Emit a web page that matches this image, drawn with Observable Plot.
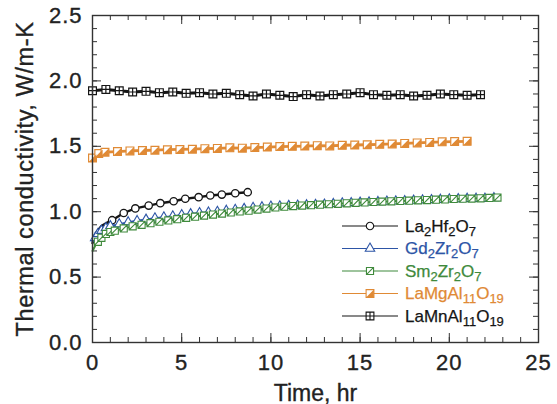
<!DOCTYPE html>
<html><head><meta charset="utf-8">
<script src="https://cdn.jsdelivr.net/npm/d3@7"></script>
<script src="https://cdn.jsdelivr.net/npm/@observablehq/plot@0.6"></script>
<style>body{margin:0;background:#fff}</style>
</head><body><div id="chart"></div>
<script>
// ---- data ----
const tHf = [0,0.1,0.25,0.5,0.8,1.1,1.75,2.4,3.15,3.8,4.55,5.2,5.95,6.6,7.25,8.0,8.7];
const vHf = [0.76,0.80,0.85,0.89,0.915,0.935,0.99,1.025,1.047,1.065,1.08,1.099,1.111,1.124,1.131,1.141,1.149];

const tGd = [0,0.15,0.3,0.5,0.75,1,1.5,2,2.5,3,3.5,4,4.5,5,5.5,6,6.5,7,7.5,8,8.5,9,9.5,10,10.5,11,11.5,12,12.5,13,13.5,14,14.5,15,15.5,16,16.5,17,17.5,18,18.5,19,19.5,20,20.5,21,21.5,22,22.5];
const vGd = [0.77,0.80,0.83,0.855,0.875,0.89,0.905,0.92,0.93,0.94,0.95,0.958,0.965,0.975,0.982,0.99,0.995,1.0,1.008,1.015,1.022,1.03,1.035,1.04,1.042,1.045,1.048,1.05,1.053,1.055,1.06,1.065,1.067,1.07,1.072,1.075,1.078,1.08,1.082,1.085,1.088,1.09,1.092,1.095,1.097,1.1,1.1,1.1,1.105];

const tSm = [0,0.15,0.3,0.5,0.75,1,1.25,1.75,2.25,2.75,3.25,3.75,4.25,4.75,5.25,5.75,6.25,6.75,7.25,7.75,8.25,8.75,9.25,9.75,10.25,10.75,11.25,11.75,12.25,12.75,13.25,13.75,14.25,14.75,15.25,15.75,16.25,16.75,17.25,17.75,18.25,18.75,19.25,19.75,20.25,20.75,21.25,21.75,22.25,22.7];
const vSm = [0.70,0.74,0.77,0.80,0.83,0.845,0.855,0.872,0.888,0.9,0.912,0.923,0.933,0.943,0.953,0.962,0.97,0.978,0.986,0.994,1.002,1.008,1.016,1.024,1.032,1.038,1.043,1.047,1.05,1.054,1.057,1.06,1.064,1.068,1.071,1.074,1.077,1.079,1.082,1.084,1.087,1.089,1.092,1.094,1.097,1.099,1.1,1.102,1.105,1.108];

const tMg = [0,0.35,0.7,1.4,2.1,2.8,3.5,4.2,4.9,5.6,6.3,7,7.7,8.4,9.1,9.8,10.5,11.2,11.9,12.6,13.3,14,14.7,15.4,16.1,16.8,17.5,18.2,18.9,19.6,20.3,21];
const vMg = [1.41,1.445,1.455,1.46,1.465,1.468,1.47,1.474,1.476,1.478,1.482,1.484,1.488,1.486,1.49,1.494,1.498,1.5,1.502,1.505,1.503,1.508,1.51,1.512,1.515,1.518,1.522,1.526,1.53,1.534,1.536,1.538];

const tMn = [0,0.75,1.5,2.25,3,3.75,4.5,5.25,6,6.75,7.5,8.25,9,9.75,10.5,11.25,12,12.75,13.5,14.25,15,15.75,16.5,17.25,18,18.75,19.5,20.25,21,21.75];
const vMn = [1.925,1.935,1.925,1.915,1.92,1.91,1.915,1.905,1.91,1.9,1.905,1.895,1.885,1.9,1.89,1.88,1.895,1.885,1.895,1.9,1.91,1.895,1.89,1.895,1.885,1.89,1.9,1.895,1.89,1.895];

const xMajor = [0,5,10,15,20,25];
const xMinor = [0,1,2,3,4,5,6,7,8,9,10,11,12,13,14,15,16,17,18,19,20,21,22,23,24,25];
const yMajor = [0,0.5,1.0,1.5,2.0,2.5];
const yMinor = [0,0.1,0.2,0.3,0.4,0.5,0.6,0.7,0.8,0.9,1.0,1.1,1.2,1.3,1.4,1.5,1.6,1.7,1.8,1.9,2.0,2.1,2.2,2.3,2.4,2.5];
const xTickLabels = ["0","5","10","15","20","25"];
const yTickLabels = ["0.0","0.5","1.0","1.5","2.0","2.5"];

const legendNames = [
  [["La",0],["2",1],["Hf",0],["2",1],["O",0],["7",1]],
  [["Gd",0],["2",1],["Zr",0],["2",1],["O",0],["7",1]],
  [["Sm",0],["2",1],["Zr",0],["2",1],["O",0],["7",1]],
  [["LaMgAl",0],["11",1],["O",0],["19",1]],
  [["LaMnAl",0],["11",1],["O",0],["19",1]]
];
const colors = ["#151515","#2d55a6","#3f8a3c","#e08a35","#151515"];

// ---- symbols ----
const symSquareCross = {draw(c, s){const w=Math.sqrt(s)/2;c.moveTo(-w,-w);c.lineTo(w,-w);c.lineTo(w,w);c.lineTo(-w,w);c.closePath();c.moveTo(0,-w);c.lineTo(0,w);c.moveTo(-w,0);c.lineTo(w,0);}};
const symSquareSlash = {draw(c, s){const w=Math.sqrt(s)/2;c.moveTo(-w,-w);c.lineTo(w,-w);c.lineTo(w,w);c.lineTo(-w,w);c.closePath();c.moveTo(-w,w);c.lineTo(w,-w);}};
const symSquareOpen = {draw(c, s){const w=Math.sqrt(s)/2;c.moveTo(-w,-w);c.lineTo(w,-w);c.lineTo(w,w);c.lineTo(-w,w);c.closePath();}};
const symCorner = {draw(c, s){const w=Math.sqrt(s)/2;c.moveTo(w,-w);c.lineTo(w,w);c.lineTo(-w,w);c.closePath();}};
const symTri = d3.symbolTriangle;

const rows = (t, v) => t.map((x, i) => ({t: x, v: v[i]}));
const dHf = rows(tHf, vHf), dGd = rows(tGd, vGd), dSm = rows(tSm, vSm), dMg = rows(tMg, vMg), dMn = rows(tMn, vMn);

const rSq = 4.4, rCi = 3.7, rTr = 3.5, rSl = 4.0;

const W = 557, H = 404, ML = 92, MR = 19, MT = 15, MB = 62;
const FW = W - ML - MR, FH = H - MT - MB;
const majLen = 9, minLen = 5, tickCol = "#333";

const tickMarks = [
  Plot.ruleX(xMajor, {x: d => d, insetTop: FH - majLen, stroke: tickCol}),
  Plot.ruleX(xMinor, {x: d => d, insetTop: FH - minLen, stroke: tickCol}),
  Plot.ruleX(xMajor, {x: d => d, insetBottom: FH - majLen, stroke: tickCol}),
  Plot.ruleX(xMinor, {x: d => d, insetBottom: FH - minLen, stroke: tickCol}),
  Plot.ruleY(yMajor, {y: d => d, insetRight: FW - majLen, stroke: tickCol}),
  Plot.ruleY(yMinor, {y: d => d, insetRight: FW - minLen, stroke: tickCol}),
  Plot.ruleY(yMajor, {y: d => d, insetLeft: FW - majLen, stroke: tickCol}),
  Plot.ruleY(yMinor, {y: d => d, insetLeft: FW - minLen, stroke: tickCol})
];

const plot = Plot.plot({
  width: W, height: H,
  marginLeft: ML, marginRight: MR, marginTop: MT, marginBottom: MB,
  x: {domain: [0, 25]},
  y: {domain: [0, 2.5]},
  style: {fontFamily: "'Liberation Sans', Arial, Helvetica, sans-serif", fontSize: "22px", color: "#222", background: "white"},
  marks: [
    Plot.axisX({anchor: "bottom", ticks: xMajor, tickSize: 0, tickPadding: 12, tickFormat: (d, i) => xTickLabels[i],
      label: "Time, hr", labelAnchor: "center", labelOffset: 58, labelArrow: "none"}),
    Plot.axisY({anchor: "left", ticks: yMajor, tickSize: 0, tickPadding: 10, tickFormat: (d, i) => yTickLabels[i],
      label: "Thermal conductivity, W/m-K", labelAnchor: "center", labelOffset: 76, labelArrow: "none"}),
    ...tickMarks,
    // LaMnAl11O19
    Plot.line(dMn, {x: "t", y: "v", stroke: colors[4], strokeWidth: 3}),
    Plot.dot(dMn, {x: "t", y: "v", symbol: symSquareCross, r: rSq, stroke: colors[4], fill: "white", strokeWidth: 1.2}),
    // LaMgAl11O19
    Plot.line(dMg, {x: "t", y: "v", stroke: colors[3], strokeWidth: 2.8}),
    Plot.dot(dMg, {x: "t", y: "v", symbol: symSquareOpen, r: rSq, stroke: colors[3], fill: "white", strokeWidth: 1.2}),
    Plot.dot(dMg, {x: "t", y: "v", symbol: symCorner, r: rSq, fill: colors[3]}),
    // La2Hf2O7
    Plot.line(dHf, {x: "t", y: "v", stroke: colors[0], strokeWidth: 2.4}),
    Plot.dot(dHf.filter(d => d.t >= 1), {x: "t", y: "v", symbol: "circle", r: rCi, stroke: colors[0], fill: "white", strokeWidth: 1.3}),
    // Gd2Zr2O7
    Plot.line(dGd, {x: "t", y: "v", stroke: colors[1], strokeWidth: 2}),
    Plot.dot(dGd.filter(d => d.t >= 0.15), {x: "t", y: "v", symbol: symTri, r: rTr, stroke: colors[1], fill: "white", strokeWidth: 1.1}),
    // Sm2Zr2O7
    Plot.line(dSm, {x: "t", y: "v", stroke: colors[2], strokeWidth: 2}),
    Plot.dot(dSm.filter(d => d.t >= 0.3), {x: "t", y: "v", symbol: symSquareSlash, r: rSl, stroke: colors[2], fill: "white", strokeWidth: 1.1}),
    Plot.frame({stroke: "#333", strokeWidth: 1.4})
  ]
});
document.getElementById("chart").append(plot);

const svg = d3.select(plot);
// heavier, slightly wider axis text like the reference
svg.selectAll('g[aria-label="x-axis tick label"] text, g[aria-label="y-axis tick label"] text')
  .attr("letter-spacing", 1).attr("stroke", "#222").attr("stroke-width", 0.35);
svg.selectAll('g[aria-label="y-axis label"] text')
  .attr("font-size", 23.5).attr("letter-spacing", 0.6).attr("stroke", "#222").attr("stroke-width", 0.35);
svg.selectAll('g[aria-label="x-axis label"] text')
  .attr("font-size", 23).attr("stroke", "#222").attr("stroke-width", 0.35);

// ---- legend ----
const lg = svg.append("g").attr("font-family", "'Liberation Sans', Arial, Helvetica, sans-serif").attr("text-anchor", "start");
const legendSyms = [
  [{type: d3.symbolCircle, r: rCi}],
  [{type: symTri, r: rTr}],
  [{type: symSquareSlash, r: rSl}],
  [{type: symSquareOpen, r: rSq}, {type: symCorner, r: rSq, solid: true}],
  [{type: symSquareCross, r: rSq}]
];
legendNames.forEach((parts, i) => {
  const y = 226 + i * 22.5;
  const col = colors[i];
  lg.append("line").attr("x1", 342).attr("x2", 398).attr("y1", y).attr("y2", y).attr("stroke", col).attr("stroke-width", 1.1);
  legendSyms[i].forEach(s => {
    const p = lg.append("path").attr("transform", `translate(370,${y})`)
      .attr("d", d3.symbol(s.type, Math.PI * s.r * s.r)());
    if (s.solid) p.attr("fill", col);
    else p.attr("fill", "white").attr("stroke", col).attr("stroke-width", 1.1);
  });
  const tx = lg.append("text").attr("x", 405).attr("y", y + 5.5).attr("font-size", 17).attr("fill", col)
    .attr("stroke", col).attr("stroke-width", 0.25);
  parts.forEach(([s, sub], j) => {
    const prevSub = j > 0 && parts[j - 1][1];
    const ts = tx.append("tspan").text(s);
    if (sub) ts.attr("font-size", 13);
    ts.attr("dy", sub && !prevSub ? 4 : (!sub && prevSub ? -4 : 0));
  });
});
</script>
</body></html>
